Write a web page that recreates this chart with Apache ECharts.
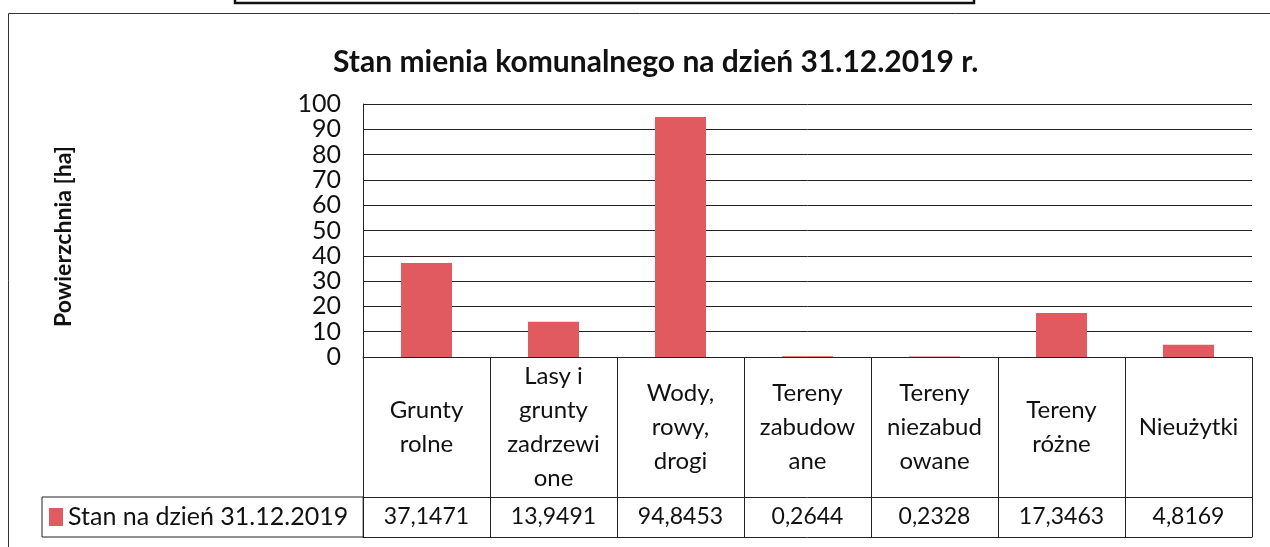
<!DOCTYPE html>
<html>
<head>
<meta charset="utf-8">
<script src="https://cdn.jsdelivr.net/npm/echarts@6/dist/echarts.min.js"></script>
<style>
  html, body { margin: 0; padding: 0; background: #fff; }
  #chart { width: 1270px; height: 547px; }
</style>
</head>
<body>
<div id="chart"></div>
<script>
// dane z wykresu
const categories = [
  'Grunty\nrolne',
  'Lasy i\ngrunty\nzadrzewi\none',
  'Wody,\nrowy,\ndrogi',
  'Tereny\nzabudow\nane',
  'Tereny\nniezabud\nowane',
  'Tereny\nróżne',
  'Nieużytki'
];
const values = [37.1471, 13.9491, 94.8453, 0.2644, 0.2328, 17.3463, 4.8169];
const yTicks = [0, 10, 20, 30, 40, 50, 60, 70, 80, 90, 100];
const seriesName = 'Stan na dzień 31.12.2019';

const FONT = 'Lato';
const valueLabels = values.map(v => v.toFixed(4).replace('.', ','));

const myChart = echarts.init(document.getElementById('chart'));
myChart.setOption({
  backgroundColor: '#fff',
  textStyle: { fontFamily: FONT, color: '#000' },
  title: {
    text: 'Stan mienia komunalnego na dzień 31.12.2019 r.',
    left: 328,
    top: 42,
    textStyle: { fontFamily: FONT, fontSize: 30, fontWeight: 'bold', color: '#111' }
  },
  legend: {
    data: [seriesName],
    icon: 'rect',
    left: 42,
    top: 497,
    itemWidth: 14,
    itemHeight: 18,
    itemGap: 5,
    padding: [6, 15, 6, 7],
    borderColor: '#222',
    borderWidth: 1,
    borderRadius: 0,
    textStyle: { fontFamily: FONT, fontSize: 25, lineHeight: 28, color: '#111', padding: [0, 0, 0, 0] }
  },
  grid: { left: 363, right: 18, top: 104, bottom: 190, containLabel: false },
  xAxis: [
    {
      type: 'category',
      data: categories,
      position: 'bottom',
      axisLine: { show: true, lineStyle: { color: '#222', width: 1 } },
      axisTick: { show: true, length: 180, interval: 0, lineStyle: { color: '#222', width: 1 } },
      axisLabel: {
        interval: 0,
        margin: 70,
        verticalAlign: 'middle',
        fontFamily: FONT,
        fontSize: 24,
        lineHeight: 34,
        color: '#111'
      }
    },
    {
      type: 'category',
      data: valueLabels,
      position: 'bottom',
      offset: 140,
      axisLine: { show: true, lineStyle: { color: '#222', width: 1 } },
      axisTick: { show: false },
      axisLabel: {
        interval: 0,
        margin: 20,
        verticalAlign: 'middle',
        fontFamily: FONT,
        fontSize: 23,
        color: '#111'
      }
    },
    {
      type: 'category',
      data: categories,
      position: 'bottom',
      offset: 180,
      axisLine: { show: true, lineStyle: { color: '#222', width: 1 } },
      axisTick: { show: false },
      axisLabel: { show: false }
    }
  ],
  yAxis: {
    type: 'value',
    min: yTicks[0],
    max: yTicks[yTicks.length - 1],
    interval: 10,
    name: 'Powierzchnia [ha]',
    nameLocation: 'middle',
    nameRotate: 90,
    nameGap: 288,
    nameTextStyle: { fontFamily: FONT, fontSize: 23, fontWeight: 'bold', color: '#111', padding: [0, 12, 0, 0] },
    axisLine: { show: true, lineStyle: { color: '#222', width: 1 } },
    axisTick: { show: false },
    axisLabel: { fontFamily: FONT, fontSize: 25, color: '#111', margin: 22 },
    splitLine: { show: true, lineStyle: { color: '#222', width: 1 } }
  },
  series: [
    {
      name: seriesName,
      type: 'bar',
      data: values,
      barWidth: 51,
      itemStyle: { color: '#E05A60' }
    }
  ],
  graphic: [
    // ramka wykresu (obcięta przy prawej i dolnej krawędzi)
    {
      type: 'rect',
      silent: true,
      shape: { x: 8.5, y: 13.5, width: 1400, height: 700 },
      style: { fill: 'none', stroke: '#333', lineWidth: 1 }
    },
    // fragment tabeli z góry strony
    {
      type: 'polyline',
      silent: true,
      shape: { points: [[235, -5], [235, 3], [974, 3], [974, -5]] },
      style: { fill: 'none', stroke: '#111', lineWidth: 2.5 }
    }
  ]
});
</script>
</body>
</html>
